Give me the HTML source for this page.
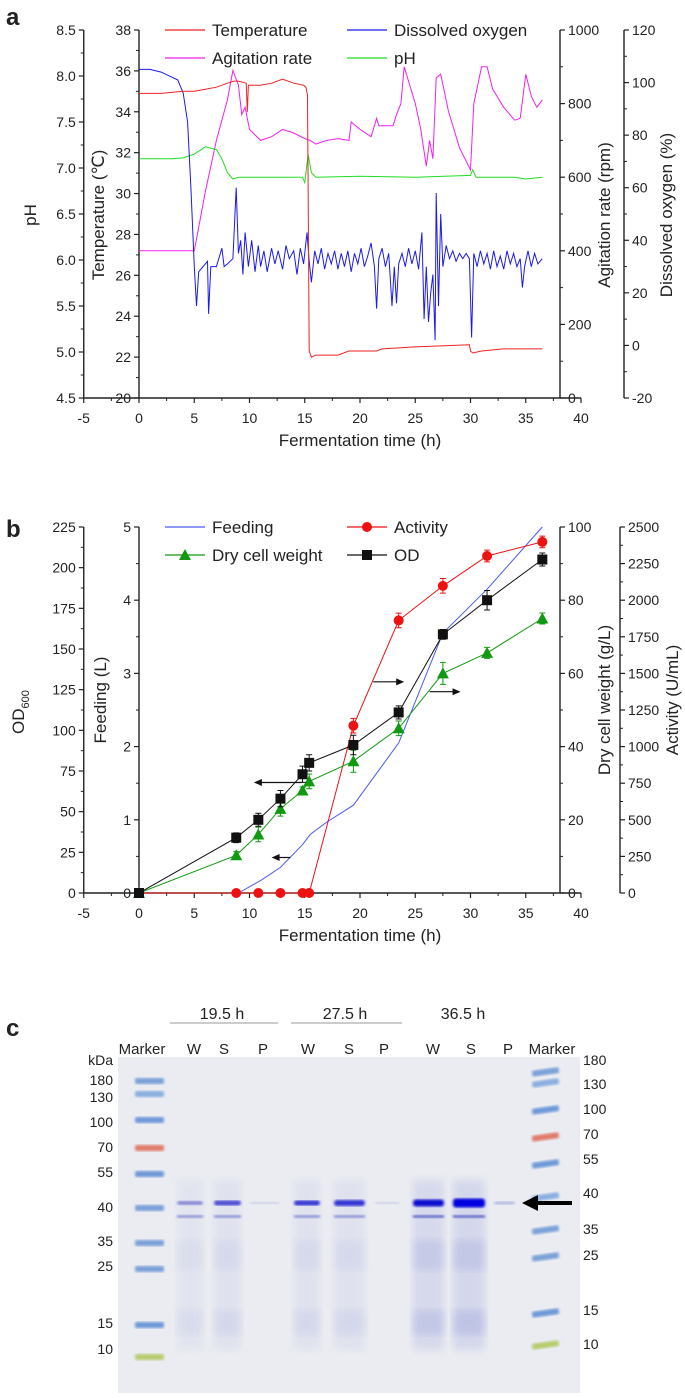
<!DOCTYPE html>
<html><head><meta charset="utf-8"><style>
html,body{margin:0;padding:0;background:#fff}
svg{display:block}
text{font-family:"Liberation Sans",Arial,sans-serif;fill:#222}
</style></head><body>
<svg id="fig" width="685" height="1398" viewBox="0 0 685 1398" xmlns="http://www.w3.org/2000/svg">
<defs>
<filter id="blur1"><feGaussianBlur stdDeviation="1.3"/></filter>
<filter id="blur3"><feGaussianBlur stdDeviation="4"/></filter>
</defs>
<g id="pa"></g>
<g id="pb"></g>
<g id="pc"></g>
</svg>
<script>
// ---------- Panel a data ----------
const tempTimes=[0,2,4,5,6,7,8,8.6,9,9.7,9.8,9.9,10,11,12,13,14,14.9,15.1,15.25,15.4,15.6,16,18,19,20,21.5,22,25,29.9,30,30.2,31,33,36.5];
const tempVals=[34.9,34.9,35.0,35.0,35.1,35.2,35.4,35.5,35.5,35.4,34.0,35.3,35.3,35.3,35.4,35.6,35.4,35.3,35.2,34.8,22.3,22.0,22.1,22.1,22.3,22.3,22.3,22.4,22.5,22.6,22.3,22.2,22.3,22.4,22.4];
const agTimes=[0,5,5.5,6,7,8,8.5,9,9.3,9.6,10,11,12,13,14,15,15.5,16,17,18,19,19.2,20,21,21.5,21.7,22,23,23.3,23.7,24,25,25.5,26,26.3,26.6,26.9,27.3,28,29,30,30.3,31,31.5,32,33,34,34.5,35,35.5,36,36.5];
const agVals=[400,400,480,560,700,810,890,850,770,790,730,700,710,730,720,705,700,690,700,705,700,750,730,710,760,740,740,740,770,800,900,800,730,630,700,650,870,880,780,680,620,800,900,900,840,790,755,760,880,820,790,810];
const phTimes=[0,3,4,5,6,7,7.5,8,8.5,9,12,14.8,15,15.3,15.6,16,20,25,30,30.2,30.5,34,35,36.5];
const phVals=[7.10,7.10,7.11,7.15,7.23,7.20,7.10,6.95,6.88,6.90,6.90,6.90,6.84,7.15,6.95,6.90,6.91,6.90,6.92,6.98,6.90,6.90,6.88,6.90];
const doTimes=[0,1,2,3,3.5,4,4.4,4.7,5,5.2,5.4,5.8,6.2,6.3,6.5,7,7.5,7.7,8,8.5,8.8,9,9.2,9.4,9.6,9.9,10.2,10.5,10.8,11,11.3,11.6,12,12.3,12.6,13,13.3,13.6,14,14.3,14.6,14.9,15.2,15.4,15.6,15.9,16.2,16.5,16.8,17.1,17.4,17.7,18,18.3,18.6,18.9,19.2,19.5,19.8,20.1,20.4,20.7,21,21.3,21.5,21.7,22,22.3,22.6,22.9,23.1,23.3,23.5,23.8,24.1,24.4,24.7,25,25.3,25.6,25.8,26,26.2,26.4,26.6,26.8,26.9,27.1,27.3,27.5,27.8,28.1,28.4,28.7,29,29.3,29.6,29.9,30,30.1,30.3,30.6,30.9,31.2,31.5,31.8,32.1,32.4,32.7,33,33.3,33.6,33.9,34.2,34.5,34.7,34.9,35.2,35.5,35.8,36.1,36.5];
const doVals=[105,105,104,102,101,96,85,60,30,15,28,30,32,12,30,30,37,30,31,33,60,35,40,27,43,30,40,28,38,30,36,28,37,31,36,29,38,33,36,27,37,31,43,32,24,36,31,37,29,35,31,36,29,35,30,36,28,35,31,37,30,34,39,30,14,33,37,30,35,15,30,16,31,35,30,37,31,36,29,43,10,30,9,20,27,2,58,15,50,30,38,33,36,32,35,33,35,33,18,3,35,30,36,31,35,29,36,30,34,29,36,31,35,30,33,22,30,36,30,35,31,33];
const xTicks=[-5,0,5,10,15,20,25,30,35,40];
const phTicks=["4.5","5.0","5.5","6.0","6.5","7.0","7.5","8.0","8.5"];
const tempTicks=[20,22,24,26,28,30,32,34,36,38];
const agTicks=[0,200,400,600,800,1000];
const doTicks=[-20,0,20,40,60,80,100,120];
// ---------- Panel b data ----------
const sTimes=[0,8.8,10.8,12.8,14.8,15.4,19.4,23.5,27.5,31.5,36.5];
const odVals=[0,34,45,58,73,80,91,111,159,180,205];
const odErr=[0,3,4,5,5,5,6,4,3,6,4];
const dcwVals=[0,10.3,16,23,28,30.5,36,45,60,65.6,75];
const dcwErr=[0,1,2,2,1,2,3,2,3,1.5,1.5];
const actVals=[0,0,0,0,0,0,1143,1862,2098,2302,2398];
const actErr=[0,0,0,0,0,0,50,50,50,40,40];
const feedTimes=[9,11,12.8,14.8,15.5,17,19.4,23.5,27.5,31.5,36.5];
const feedVals=[0,0.17,0.35,0.66,0.8,0.97,1.2,2.05,3.55,4.15,5.0];
const odTicks=[0,25,50,75,100,125,150,175,200,225];
const feedTicks=[0,1,2,3,4,5];
const dcwTicks=[0,20,40,60,80,100];
const actTicks=[0,250,500,750,1000,1250,1500,1750,2000,2250,2500];

const NS="http://www.w3.org/2000/svg";
function mk(parent,tag,attrs,txt){const e=document.createElementNS(NS,tag);for(const k in attrs)e.setAttribute(k,attrs[k]);if(txt!==undefined)e.textContent=txt;parent.appendChild(e);return e;}
const X=t=>139+t*11.05;

function vAxis(g,x,y0,y1,vals,labels,fn,side,minorStep,name,labelDx){
  const ax=mk(g,'line',{x1:x,x2:x,y1:y0,y2:y1,stroke:'#222','stroke-width':1.4});
  
  
  const d=side==='left'?-1:1;
  for(let i=0;i<vals.length;i++){
    const y=fn(vals[i]);
    mk(g,'line',{x1:x,x2:x+d*5,y1:y,y2:y,stroke:'#222','stroke-width':1.2});
    if(i<vals.length-1){const ym=fn((vals[i]+vals[i+1])/2);mk(g,'line',{x1:x,x2:x+d*3,y1:ym,y2:ym,stroke:'#222','stroke-width':1});}
    const t=mk(g,'text',{x:x+d*(labelDx||8),y:y+5,'font-size':14,'text-anchor':side==='left'?'end':'start'},labels[i]);
    
    
  }
}
function xAxis(g,y){
  const ax=mk(g,'line',{x1:X(-5),x2:X(40),y1:y,y2:y,stroke:'#222','stroke-width':1.4});
  
  
  for(let i=0;i<xTicks.length;i++){
    const x=X(xTicks[i]);
    mk(g,'line',{x1:x,x2:x,y1:y,y2:y+5,stroke:'#222','stroke-width':1.2});
    if(i<xTicks.length-1){const xm=X(xTicks[i]+2.5);mk(g,'line',{x1:xm,x2:xm,y1:y,y2:y+3,stroke:'#222','stroke-width':1});}
    const t=mk(g,'text',{x:x,y:y+25,'font-size':14,'text-anchor':'middle'},String(xTicks[i]));
    
    
  }
  const tt=mk(g,'text',{x:360,y:y+48,'font-size':17,'text-anchor':'middle'},'Fermentation time (h)');
  
  
}
function vTitle(g,x,y,txt,name,size){
  const t=mk(g,'text',{x:x,y:y,'font-size':size||17,'text-anchor':'middle',transform:`rotate(-90 ${x} ${y})`},txt);
  
  
  return t;
}
function poly(g,xs,ys,fy,color,w,name){
  const pts=xs.map((t,i)=>X(t).toFixed(1)+','+fy(ys[i]).toFixed(1)).join(' ');
  const p=mk(g,'polyline',{points:pts,fill:'none',stroke:color,'stroke-width':w});
  
  
}
function legendItem(g,x,y,color,label,marker,name){
  const li=mk(g,'g',{});
  
  
  mk(li,'line',{x1:x,x2:x+40,y1:y,y2:y,stroke:color,'stroke-width':1.2});
  if(marker)drawMarker(li,x+20,y,marker,color);
  mk(li,'text',{x:x+47,y:y+6,'font-size':17},label);
}
function drawMarker(g,x,y,type,color){
  if(type==='circle')mk(g,'circle',{cx:x,cy:y,r:5,fill:color});
  else if(type==='square')mk(g,'rect',{x:x-5,y:y-5,width:10,height:10,fill:color});
  else if(type==='tri')mk(g,'polygon',{points:`${x},${y-6} ${x+6},${y+5} ${x-6},${y+5}`,fill:color});
}

// ================= Panel a =================
(function(){
  const g=document.getElementById('pa');
  const yT=v=>398-(v-20)/18*368, yP=v=>398-(v-4.5)/4*368, yA=v=>398-v/1000*368, yD=v=>398-(v+20)/140*368;
  const lbl=mk(g,'text',{x:6,y:25,'font-size':24,'font-weight':'bold'},'a');
  
  vAxis(g,X(-5),30,398,phTicks.map(Number),phTicks,yP,'left',0,'ph-axis');
  vAxis(g,X(0),30,398,tempTicks,tempTicks.map(String),yT,'left',0,'temperature-axis');
  vAxis(g,560,30,398,agTicks,agTicks.map(String),yA,'right',0,'agitation-axis');
  vAxis(g,624,30,398,doTicks,doTicks.map(String),yD,'right',0,'do-axis');
  xAxis(g,398);
  vTitle(g,36,215,'pH','ph-axis-title');
  vTitle(g,104,215,'Temperature (℃)','temperature-axis-title');
  vTitle(g,610,215,'Agitation rate (rpm)','agitation-axis-title');
  vTitle(g,672,215,'Dissolved oxygen (%)','do-axis-title');
  poly(g,agTimes,agVals,yA,'#ee22ee',1,'agitation-line');
  poly(g,phTimes,phVals,yP,'#22dd22',1,'ph-line');
  poly(g,doTimes,doVals,yD,'#1a1aee',1,'do-line');
  poly(g,tempTimes,tempVals,yT,'#ee2222',1,'temperature-line');
  legendItem(g,165,30,'#ee2222','Temperature',null,'legend-temperature');
  legendItem(g,347,30,'#1a1aee','Dissolved oxygen',null,'legend-dissolved-oxygen');
  legendItem(g,165,58,'#ee22ee','Agitation rate',null,'legend-agitation-rate');
  legendItem(g,347,58,'#22dd22','pH',null,'legend-ph');
})();

// ================= Panel b =================
(function(){
  const g=document.getElementById('pb');
  const B=893,H=366;
  const yO=v=>B-v/225*H, yF=v=>B-v/5*H, yW=v=>B-v/100*H, yAc=v=>B-v/2500*H;
  const lbl=mk(g,'text',{x:6,y:537,'font-size':24,'font-weight':'bold'},'b');
  
  vAxis(g,X(-5),527,B,odTicks,odTicks.map(String),yO,'left',0,'od-axis');
  vAxis(g,X(0),527,B,feedTicks,feedTicks.map(String),yF,'left',0,'feeding-axis');
  vAxis(g,560,527,B,dcwTicks,dcwTicks.map(String),yW,'right',0,'dcw-axis');
  vAxis(g,620,527,B,actTicks,actTicks.map(String),yAc,'right',0,'activity-axis');
  xAxis(g,B);
  const od=vTitle(g,24,712,'','od-axis-title');
  mk(od,'tspan',{},'OD');mk(od,'tspan',{'font-size':11,dy:5},'600');
  vTitle(g,106,700,'Feeding (L)','feeding-axis-title');
  vTitle(g,610,700,'Dry cell weight (g/L)','dcw-axis-title');
  vTitle(g,678,700,'Activity (U/mL)','activity-axis-title');
  poly(g,feedTimes,feedVals,yF,'#4a5aee',1,'feeding-line');
  function series(vals,errs,fy,color,marker,name){
    poly(g,sTimes,vals,fy,color,1,name+'-line');
    for(let i=0;i<sTimes.length;i++){
      const x=X(sTimes[i]),y=fy(vals[i]);
      if(errs[i]>0){
        const e=mk(g,'path',{d:`M${x},${fy(vals[i]-errs[i])}V${fy(vals[i]+errs[i])}M${x-3},${fy(vals[i]-errs[i])}h6M${x-3},${fy(vals[i]+errs[i])}h6`,stroke:color,fill:'none','stroke-width':1});
        
      }
      const m=mk(g,'g',{});
      
      
      drawMarker(m,x,y,marker,color);
    }
  }
  series(actVals,actErr,yAc,'#ee1111','circle','activity');
  series(dcwVals,dcwErr,yW,'#119911','tri','dcw');
  series(odVals,odErr,yO,'#111111','square','od');
  function arrow(t1,t2,frac,name){
    const y=B-frac*H,x1=X(t1),x2=X(t2),d=x2>x1?1:-1;
    const a=mk(g,'g',{});
    
    
    mk(a,'line',{x1:x1,x2:x2-d*6,y1:y,y2:y,stroke:'#111','stroke-width':1.2});
    mk(a,'polygon',{points:`${x2},${y} ${x2-d*8},${y-3.5} ${x2-d*8},${y+3.5}`,fill:'#111'});
  }
  arrow(14.7,10.4,0.302,'arrow-od');
  arrow(13.7,12.0,0.097,'arrow-feeding');
  arrow(21.2,24.0,0.577,'arrow-activity');
  arrow(26.3,29.1,0.55,'arrow-dcw');
  legendItem(g,165,527,'#4a5aee','Feeding',null,'legend-feeding');
  legendItem(g,347,527,'#ee1111','Activity','circle','legend-activity');
  legendItem(g,165,555,'#119911','Dry cell weight','tri','legend-dcw');
  legendItem(g,347,555,'#111111','OD','square','legend-od');
})();

// ================= Panel c =================
(function(){
  const g=document.getElementById('pc');
  const lbl=mk(g,'text',{x:6,y:1036,'font-size':24,'font-weight':'bold'},'c');
  
  [['19.5 h',222,170,278],['27.5 h',345,291,402],['36.5 h',463,0,0]].forEach(([t,cx,a,b])=>{
    const tt=mk(g,'text',{x:cx,y:1019,'font-size':16,'text-anchor':'middle'},t);
    
    if(b){const l=mk(g,'line',{x1:a,x2:b,y1:1023,y2:1023,stroke:'#999','stroke-width':1});
      }
  });
  [['Marker',142],['W',194],['S',224],['P',263],['W',308],['S',349],['P',384],['W',433],['S',471],['P',508],['Marker',552]].forEach(([t,x])=>{
    const tt=mk(g,'text',{x:x,y:1054,'font-size':15,'text-anchor':'middle'},t);
    
  });
  const gel=mk(g,'rect',{x:118,y:1057,width:462,height:336,fill:'#eaecf1'});
  
  [[177,203,0.08],[214,241,0.10],[294,320,0.10],[334,365,0.10],[413,444,0.2],[453,485,0.22]].forEach(([a,b,o])=>{
    mk(g,'rect',{x:a,y:1180,width:b-a,height:170,fill:'#8890d8',opacity:o,filter:'url(#blur3)'});
    mk(g,'rect',{x:a,y:1240,width:b-a,height:30,fill:'#8890d8',opacity:o,filter:'url(#blur3)'});
    mk(g,'rect',{x:a,y:1310,width:b-a,height:25,fill:'#8890d8',opacity:o*1.2,filter:'url(#blur3)'});
  });
  const lm=[[1081,'#7aa0d8'],[1094,'#8aaee0'],[1120,'#6d98d8'],[1148,'#e07a6a'],[1174,'#6d98d8'],[1208,'#7aa0d8'],[1243,'#7aa0d8'],[1269,'#7aa0d8'],[1325,'#6d98d8'],[1357,'#b8cc70']];
  lm.forEach(([y,c])=>{const b=mk(g,'rect',{x:135,y:y-3,width:29,height:6,rx:2,fill:c,filter:'url(#blur1)'});
    });
  const rm=[[1072,'#7aa0d8'],[1083,'#8aaee0'],[1110,'#6d98d8'],[1137,'#e07a6a'],[1164,'#6d98d8'],[1197,'#8aaee0'],[1230,'#7aa0d8'],[1257,'#7aa0d8'],[1313,'#6d98d8'],[1345,'#b8cc70']];
  rm.forEach(([y,c])=>{const b=mk(g,'rect',{x:532,y:y-3,width:27,height:6,rx:2,fill:c,filter:'url(#blur1)',transform:`rotate(-8 545 ${y})`});
    });
  const pb=[[177,203,4,'#7070d0',0.8],[214,241,5,'#3a3ad0',0.9],[294,320,5,'#2a2ad0',0.95],[334,365,6,'#2a2ad0',0.95],[413,444,7,'#1010d0',1],[453,485,9,'#0000e0',1],[494,515,3,'#9aa0e0',0.7],[250,280,2,'#b0b4e0',0.6],[375,400,2,'#b0b4e0',0.6]];
  pb.forEach(([a,b,h,c,o])=>{const r=mk(g,'rect',{x:a,y:1203-h/2,width:b-a,height:h,rx:3,fill:c,opacity:o,filter:'url(#blur1)'});
    });
  [[177,203],[214,241],[294,320],[334,365],[413,444],[453,485]].forEach(([a,b],i)=>{
    mk(g,'rect',{x:a,y:1215,width:b-a,height:3,fill:'#5860c8',opacity:i>3?0.9:0.6,filter:'url(#blur1)'});});
  const ar=mk(g,'g',{});
  mk(ar,'rect',{x:534,y:1201,width:38,height:4,fill:'#000'});
  mk(ar,'polygon',{points:'522,1203 538,1195 538,1211',fill:'#000'});
  [['kDa',1065],['180',1085],['130',1102],['100',1127],['70',1152],['55',1177],['40',1212],['35',1246],['25',1271],['15',1328],['10',1354]].forEach(([t,y])=>{
    const tt=mk(g,'text',{x:113,y:y,'font-size':14,'text-anchor':'end'},t);
    });
  [['180',1065],['130',1089],['100',1114],['70',1139],['55',1164],['40',1198],['35',1234],['25',1260],['15',1315],['10',1349]].forEach(([t,y])=>{
    const tt=mk(g,'text',{x:583,y:y,'font-size':14},t);
    });
})();
</script>
</body></html>
